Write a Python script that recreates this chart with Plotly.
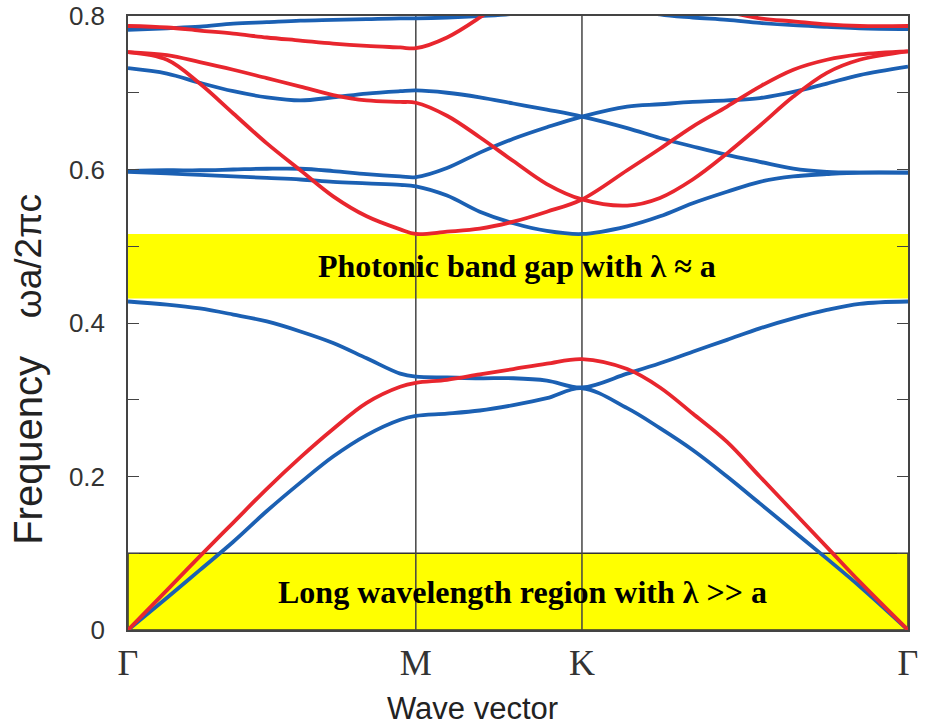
import plotly.graph_objects as go

# Wave-vector path Γ → M → K → Γ (normalised path length)
K_PATH = [0.000, 0.050, 0.092, 0.135, 0.178, 0.221, 0.263, 0.306, 0.349, 0.369,
          0.409, 0.451, 0.494, 0.537, 0.582,
          0.640, 0.682, 0.724, 0.768, 0.810, 0.853, 0.896, 0.938, 1.000]
SYM_POS = [0.0, 0.369, 0.582, 1.0]
SYM_LABELS = ["Γ", "M", "K", "Γ"]

# Blue bands (normalised frequency ωa/2πc)
blue_1 = [0.000, 0.042, 0.078, 0.115, 0.155, 0.192, 0.226, 0.254, 0.274, 0.279,
          0.282, 0.286, 0.293, 0.302, 0.315,
          0.289, 0.263, 0.2345, 0.200, 0.165, 0.129, 0.093, 0.057, 0.000]
blue_2 = [0.428, 0.424, 0.419, 0.411, 0.402, 0.389, 0.374, 0.354, 0.334, 0.330,
          0.329, 0.328, 0.328, 0.325, 0.316,
          0.334, 0.3475, 0.3626, 0.378, 0.393, 0.406, 0.417, 0.425, 0.428]
blue_3 = [0.597, 0.595, 0.593, 0.591, 0.589, 0.587, 0.584, 0.582, 0.580, 0.578,
          0.566, 0.545, 0.530, 0.520, 0.516,
          0.526, 0.539, 0.556, 0.571, 0.584, 0.591, 0.594, 0.596, 0.596]
blue_4 = [0.598, 0.599, 0.599, 0.600, 0.601, 0.601, 0.598, 0.594, 0.591, 0.590,
          0.602, 0.622, 0.640, 0.655, 0.669,
          0.682, 0.685, 0.688, 0.690, 0.693, 0.701, 0.712, 0.723, 0.734]
blue_5 = [0.732, 0.725, 0.713, 0.702, 0.694, 0.690, 0.694, 0.699, 0.702, 0.703,
          0.700, 0.694, 0.686, 0.678, 0.669,
          0.654, 0.641, 0.630, 0.619, 0.610, 0.601, 0.597, 0.596, 0.596]
blue_6 = [0.782, 0.784, 0.786, 0.790, 0.792, 0.794, 0.795, 0.796, 0.797, 0.797,
          0.798, 0.800, 0.803, 0.812, 0.818,
          0.812, 0.802, 0.798, 0.795, 0.791, 0.788, 0.786, 0.784, 0.783]

# Red bands
red_1 = [0.000, 0.052, 0.096, 0.140, 0.184, 0.225, 0.262, 0.296, 0.317, 0.322,
         0.326, 0.333, 0.340, 0.347, 0.353,
         0.340, 0.316, 0.282, 0.245, 0.200, 0.154, 0.108, 0.063, 0.000]
red_2 = [0.753, 0.743, 0.712, 0.673, 0.634, 0.599, 0.565, 0.539, 0.522, 0.516,
         0.519, 0.523, 0.532, 0.545, 0.561,
         0.599, 0.627, 0.656, 0.682, 0.708, 0.730, 0.743, 0.750, 0.754]
red_3 = [0.753, 0.749, 0.740, 0.730, 0.719, 0.708, 0.697, 0.690, 0.688, 0.687,
         0.670, 0.642, 0.611, 0.581, 0.561,
         0.553, 0.563, 0.587, 0.621, 0.657, 0.695, 0.726, 0.743, 0.754]
red_4 = [0.787, 0.785, 0.781, 0.777, 0.772, 0.768, 0.764, 0.761, 0.759, 0.758,
         0.772, 0.798, 0.830, 0.850, 0.860,
         0.855, 0.840, 0.820, 0.806, 0.797, 0.793, 0.789, 0.787, 0.787]

BLUE_BANDS = [blue_1, blue_2, blue_3, blue_4, blue_5, blue_6]
RED_BANDS = [red_1, red_2, red_3, red_4]

# Highlighted frequency ranges
GAP_RANGE = (0.432, 0.516)
LONG_WAVE_RANGE = (0.0, 0.1)
Y_TICKS = [0.0, 0.1, 0.2, 0.3, 0.4, 0.5, 0.6, 0.7, 0.8]
Y_TICK_TEXT = ["0", "", "0.2", "", "0.4", "", "0.6", "", "0.8"]

BLUE = "#1b60b3"
RED = "#e8262e"
YELLOW = "#ffff00"
FRAME = "#444444"

fig = go.Figure()

for band in BLUE_BANDS:
    fig.add_trace(go.Scatter(x=K_PATH, y=band, mode="lines",
                             line=dict(color=BLUE, width=3.8, shape="spline", smoothing=1.0),
                             hoverinfo="skip", showlegend=False))
for band in RED_BANDS:
    fig.add_trace(go.Scatter(x=K_PATH, y=band, mode="lines",
                             line=dict(color=RED, width=3.8, shape="spline", smoothing=1.0),
                             hoverinfo="skip", showlegend=False))

shapes = []
# vertical guides at the M and K points
for xv in SYM_POS[1:3]:
    shapes.append(dict(type="line", xref="x", yref="y", x0=xv, x1=xv, y0=0, y1=0.8,
                       line=dict(color=FRAME, width=1.5), layer="below"))
# photonic band gap
shapes.append(dict(type="rect", xref="paper", yref="y", x0=0, x1=1,
                   y0=GAP_RANGE[0], y1=GAP_RANGE[1], fillcolor=YELLOW,
                   line=dict(width=0), layer="below"))
# long-wavelength region
shapes.append(dict(type="rect", xref="paper", yref="y", x0=0, x1=1,
                   y0=LONG_WAVE_RANGE[0], y1=LONG_WAVE_RANGE[1], fillcolor=YELLOW,
                   line=dict(color="#333333", width=1.5), layer="below"))

annotations = [
    dict(text="<b>Photonic band gap with λ ≈ a</b>", xref="paper", yref="y",
         x=0.499, y=sum(GAP_RANGE) / 2, showarrow=False, xanchor="center", yanchor="middle",
         font=dict(family="Liberation Serif", size=32, color="#000000")),
    dict(text="<b>Long wavelength region with λ >> a</b>", xref="paper", yref="y",
         x=0.506, y=sum(LONG_WAVE_RANGE) / 2, showarrow=False, xanchor="center", yanchor="middle",
         font=dict(family="Liberation Serif", size=32, color="#000000")),
    dict(text="Frequency", xref="paper", yref="paper", x=-0.128, y=0.292,
         textangle=-90, showarrow=False, xanchor="center", yanchor="middle",
         font=dict(family="Liberation Sans", size=40, color="#222222")),
    dict(text="ωa/2πc", xref="paper", yref="paper", x=-0.128, y=0.609,
         textangle=-90, showarrow=False, xanchor="center", yanchor="middle",
         font=dict(family="Liberation Sans", size=37, color="#222222")),
    dict(text="Wave vector", xref="paper", yref="paper", x=0.442, y=-0.128,
         showarrow=False, xanchor="center", yanchor="middle",
         font=dict(family="Liberation Sans", size=31, color="#222222")),
]

fig.update_layout(
    width=930, height=728, autosize=False,
    margin=dict(l=128, r=22, t=16, b=98),
    paper_bgcolor="white", plot_bgcolor="white",
    shapes=shapes, annotations=annotations,
    xaxis=dict(range=[0, 1], tickvals=SYM_POS, ticktext=SYM_LABELS,
               tickfont=dict(family="Liberation Serif", size=36, color="#333333"),
               showgrid=False, zeroline=False, ticks="", automargin=False,
               showline=True, linecolor=FRAME, linewidth=1.5, mirror=True,
               ticklabelstandoff=0),
    yaxis=dict(range=[0, 0.8], tickvals=Y_TICKS, ticktext=Y_TICK_TEXT,
               tickfont=dict(family="Liberation Sans", size=26, color="#333333"),
               showgrid=False, zeroline=False, ticks="inside", ticklen=11,
               tickwidth=1.3, tickcolor=FRAME, automargin=False,
               showline=True, linecolor=FRAME, linewidth=1.5, mirror="ticks",
               ticklabelstandoff=16),
)

fig.write_html("out.html")
